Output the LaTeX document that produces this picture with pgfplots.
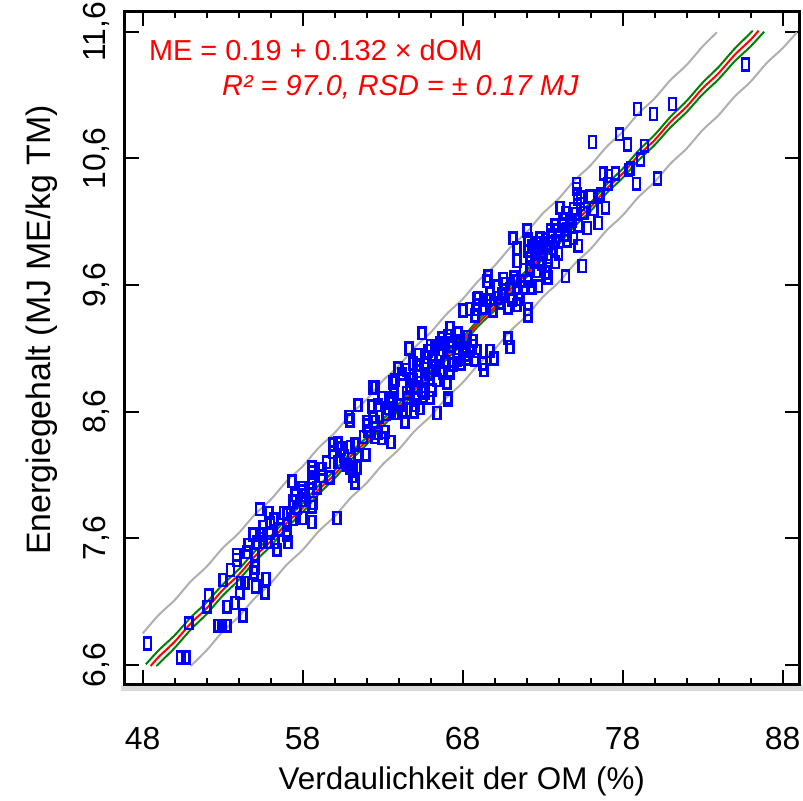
\documentclass[border=0pt]{standalone}
\usepackage{pgfplots}
\pgfplotsset{compat=1.18}
\usepackage{fontspec}
\setmainfont{Liberation Sans}
\definecolor{pgreen}{RGB}{0,128,0}
\definecolor{pgrey}{RGB}{175,175,175}
\begin{document}
\begin{tikzpicture}
\useasboundingbox (-124.7bp,-117bp) rectangle (678.3bp,684bp);
\fill[black!15] (-4bp,-7bp) rectangle (678bp,-1bp);
\begin{axis}[
  at={(0,0)}, anchor=south west, scale only axis,
  width=674.3bp, height=672.3bp,
  xmin=46.875, xmax=89.03, ymin=6.45, ymax=11.758,
  axis line style={line width=3bp},
  xtick={48,58,68,78,88}, xticklabels={48,58,68,78,88},
  minor x tick num=4,
  ytick={6.6,7.6,8.6,9.6,10.6,11.6},
  yticklabels={{6,6},{7,6},{8,6},{9,6},{10,6},{11,6}},
  major tick length=14bp, minor tick length=6bp,
  tick style={black, line width=2bp},
  tick label style={font=\fontsize{32}{36}\selectfont},
  xticklabel style={inner sep=0pt, anchor=north},
  xticklabel shift=43bp,
  yticklabel style={rotate=90, anchor=south, inner sep=0pt},
  yticklabel shift=15bp,
  xlabel={Verdaulichkeit der OM (\%)},
  ylabel={Energiegehalt (MJ ME/kg TM)},
  xlabel style={at={(axis description cs:0.5,-0.157)}, anchor=base, inner sep=0pt, font=\fontsize{31.5}{36}\selectfont},
  ylabel style={at={(axis description cs:-0.1235,0.527)}, anchor=center, font=\fontsize{34}{38}\selectfont},
  clip=true,
]
% prediction band (grey)
\addplot[pgrey, line width=2bp, smooth] coordinates {
(48,6.849) (49,6.995) (50,7.113) (51,7.259) (52,7.377) (53,7.523) (54,7.641) (55,7.787) (56,7.905) (57,8.051) (58,8.169) (59,8.315) (60,8.433) (61,8.579) (62,8.697) (63,8.843) (64,8.961) (65,9.107) (66,9.225) (67,9.371) (68,9.489) (69,9.635) (70,9.753) (71,9.899) (72,10.017) (73,10.163) (74,10.281) (75,10.427) (76,10.545) (77,10.691) (78,10.809) (79,10.955) (80,11.073) (81,11.219) (82,11.337) (83,11.483) (83.9,11.595)};
\addplot[pgrey, line width=2bp, smooth] coordinates {
(51.0,6.592) (52,6.717) (53,6.863) (54,6.981) (55,7.127) (56,7.245) (57,7.391) (58,7.509) (59,7.655) (60,7.773) (61,7.919) (62,8.037) (63,8.183) (64,8.301) (65,8.447) (66,8.565) (67,8.711) (68,8.829) (69,8.975) (70,9.093) (71,9.239) (72,9.357) (73,9.503) (74,9.621) (75,9.767) (76,9.885) (77,10.031) (78,10.149) (79,10.295) (80,10.413) (81,10.559) (82,10.677) (83,10.823) (84,10.941) (85,11.087) (86,11.205) (87,11.351) (88,11.469) (88.9,11.595)};
% data
\addplot[only marks, mark=square, mark size=5.9bp, mark options={draw=blue, line width=2.5bp, xscale=0.6, solid}] coordinates {
(48.31,6.77) (50.38,6.66) (50.69,6.66) (50.88,6.93) (52.13,7.15) (52.01,7.06) (52.70,6.91) (52.95,6.91) (53.26,6.91) (53.26,7.06)
(53.76,7.09) (54.26,6.99) (53.01,7.27) (54.07,7.17) (54.13,7.25) (54.39,7.25) (53.88,7.47) (53.88,7.43) (54.51,7.49) (54.95,7.33)
(55.07,7.22) (55.70,7.28) (55.64,7.17) (55.01,7.47) (55.01,7.37) (55.14,7.57) (55.32,7.63) (55.51,7.63) (55.83,7.57) (56.39,7.51)
(57.08,7.57) (57.01,7.65) (55.32,7.83) (55.89,7.80) (56.20,7.75) (57.01,7.79) (57.39,7.75) (58.02,7.76) (58.58,7.73) (57.39,7.89)
(57.64,7.84) (57.95,7.97) (58.14,7.94) (57.33,8.05) (58.58,8.16) (58.58,8.12) (58.58,8.08) (58.58,8.04) (58.64,7.88) (59.21,8.09)
(59.71,8.08) (60.14,7.76) (59.89,8.34) (60.21,8.35) (59.89,8.28) (60.33,8.20) (60.96,8.16) (61.15,8.14) (61.15,8.09) (61.27,8.04)
(61.27,8.34) (61.46,8.26) (61.96,8.26) (60.90,8.56) (61.46,8.65) (62.02,8.49) (62.34,8.64) (62.40,8.56) (62.52,8.52) (62.71,8.43)
(62.96,8.39) (63.15,8.44) (63.46,8.69) (63.52,8.36) (63.96,8.59) (64.40,8.52) (64.53,8.71) (64.96,8.60) (65.15,8.71) (65.34,8.63)
(65.65,8.75) (66.40,8.59) (67.09,8.69) (63.65,8.83) (62.52,8.79) (64.71,8.81) (60.96,8.53) (60.21,8.20) (60.77,8.18) (61.40,8.16)
(57.95,8.00) (57.52,7.94) (57.95,7.90) (58.58,7.85) (55.95,7.64) (56.58,7.67) (57.01,7.63) (56.26,7.57) (55.51,7.57) (54.89,7.63)
(55.51,7.69) (57.01,7.71) (60.39,8.31) (62.09,8.45) (62.52,8.40)
(68.91,9.49) (68.85,9.41) (68.78,9.36) (69.28,9.42) (68.03,9.40) (68.47,9.41) (65.47,9.22) (64.65,9.10) (67.22,9.26) (67.09,9.20)
(67.72,9.22) (66.59,9.14) (66.91,9.14) (67.66,9.14) (67.84,9.16) (68.28,9.19) (68.66,9.16) (65.84,9.08) (66.28,9.10) (67.22,9.07)
(67.66,9.08) (68.03,9.10) (68.47,9.08) (68.91,9.08) (65.78,9.03) (66.09,9.01) (66.59,9.04) (66.91,8.99) (67.66,9.01) (68.28,9.02)
(68.78,9.01) (64.90,8.98) (65.15,8.97) (65.65,8.97) (66.09,8.95) (63.96,8.94) (66.78,8.91) (67.22,8.91) (64.71,8.86) (64.90,8.85)
(65.65,8.87) (66.40,8.85) (67.03,8.83) (63.78,8.85) (62.40,8.79) (64.71,8.79) (65.03,8.79) (65.47,8.77) (66.09,8.77) (65.53,8.71)
(65.97,8.71) (67.09,8.71) (62.96,8.71) (63.59,8.71) (62.71,8.65) (64.09,8.65) (65.03,8.65) (63.34,8.63) (63.78,8.59) (64.28,8.60)
(62.02,8.52) (69.28,8.98) (69.35,8.93) (69.72,9.08) (70.85,9.18) (70.97,9.11) (69.97,9.02)
(64.20,8.90) (64.50,8.93) (65.30,8.92) (65.90,8.90) (66.30,8.96) (66.60,8.93) (67.40,8.97) (67.90,8.98) (68.20,9.05) (68.60,9.12)
(66.00,9.12) (66.70,9.18) (67.30,9.12) (65.20,9.05) (64.50,8.75) (63.70,8.76) (63.20,8.58) (62.80,8.56) (61.80,8.40) (61.00,8.32)
(60.60,8.25) (59.50,8.20) (59.20,8.15) (58.90,8.00) (56.80,7.80) (56.00,7.72) (54.60,7.55) (53.50,7.35)
(75.11,10.40) (75.11,10.36) (75.17,10.32) (75.17,10.28) (75.36,10.29) (75.36,10.24) (76.48,10.30) (74.10,10.21) (74.42,10.17) (74.29,10.12)
(74.92,10.20) (75.04,10.16) (74.86,10.11) (73.79,10.07) (73.92,10.03) (74.23,10.07) (74.54,10.04) (75.23,10.07) (76.48,10.09) (75.79,10.05)
(72.85,9.97) (73.17,9.96) (72.04,10.03) (71.16,9.97) (72.10,9.96) (72.35,9.91) (72.66,9.93) (72.85,9.89) (73.48,9.93) (73.60,9.99)
(73.67,9.89) (74.54,9.95) (74.92,9.97) (75.23,9.91) (71.41,9.89) (72.10,9.87) (72.66,9.85) (73.04,9.85) (73.35,9.82) (72.23,9.81)
(72.54,9.79) (71.41,9.79) (72.98,9.77) (73.29,9.75) (75.48,9.75) (72.23,9.74) (72.66,9.71) (73.17,9.70) (73.35,9.66) (74.42,9.67)
(69.60,9.67) (70.54,9.65) (70.66,9.61) (71.41,9.63) (72.10,9.63) (71.79,9.58) (72.35,9.58) (72.73,9.59) (70.97,9.57) (70.16,9.59)
(69.72,9.53) (70.47,9.53) (71.48,9.54) (68.97,9.50) (69.53,9.48) (68.91,9.44) (70.35,9.46) (71.10,9.48) (71.60,9.49) (70.85,9.42)
(71.41,9.44) (72.10,9.41) (69.53,9.63) (72.10,9.36)
(72.50,9.78) (73.00,9.90) (73.80,9.95) (74.00,9.85) (74.40,10.00) (73.50,10.03) (71.80,9.72) (71.20,9.66) (70.20,9.50) (69.90,9.40)
(73.80,9.78) (74.70,10.11) (75.60,10.17) (76.20,10.20) (77.10,10.40)
(85.69,11.34) (81.12,11.03) (79.93,10.95) (78.92,10.99) (77.80,10.79) (78.30,10.71) (76.11,10.73) (79.36,10.70) (79.11,10.59) (78.36,10.51)
(76.80,10.48) (77.11,10.46) (77.55,10.48) (78.86,10.40) (80.18,10.44) (75.98,10.30) (76.61,10.32) (76.92,10.21) (78.49,10.52)
};
% confidence band (green)
\addplot[pgreen, line width=2bp, smooth] coordinates {
(48.2,6.606) (49,6.716) (50,6.835) (51,6.975) (52,7.095) (53,7.235) (54,7.355) (55,7.495) (56,7.615) (57,7.755) (58,7.876) (59,8.016) (60,8.136) (61,8.277) (62,8.398) (63,8.539) (64,8.660) (65,8.801) (66,8.922) (67,9.064) (68,9.186) (69,9.328) (70,9.451) (71,9.594) (72,9.716) (73,9.860) (74,9.983) (75,10.126) (76,10.250) (77,10.394) (78,10.517) (79,10.661) (80,10.785) (81,10.929) (82,11.053) (83,11.197) (84,11.321) (85,11.465) (86,11.590) (86.1,11.608)};
\addplot[pgreen, line width=2bp, smooth] coordinates {
(48.9,6.592) (49,6.610) (50,6.735) (51,6.879) (52,7.003) (53,7.147) (54,7.271) (55,7.415) (56,7.539) (57,7.683) (58,7.807) (59,7.950) (60,8.074) (61,8.217) (62,8.341) (63,8.484) (64,8.607) (65,8.749) (66,8.872) (67,9.014) (68,9.136) (69,9.278) (70,9.399) (71,9.540) (72,9.662) (73,9.802) (74,9.923) (75,10.064) (76,10.184) (77,10.325) (78,10.445) (79,10.585) (80,10.705) (81,10.845) (82,10.965) (83,11.105) (84,11.225) (85,11.365) (86,11.484) (86.85,11.600)};
% regression (red)
\addplot[red, line width=2bp, smooth] coordinates {
(48.5,6.592) (49,6.664) (50,6.784) (51,6.928) (52,7.048) (53,7.192) (54,7.312) (55,7.456) (56,7.576) (57,7.720) (58,7.840) (59,7.984) (60,8.104) (61,8.248) (62,8.368) (63,8.512) (64,8.632) (65,8.776) (66,8.896) (67,9.040) (68,9.160) (69,9.304) (70,9.424) (71,9.568) (72,9.688) (73,9.832) (74,9.952) (75,10.096) (76,10.216) (77,10.360) (78,10.480) (79,10.624) (80,10.744) (81,10.888) (82,11.008) (83,11.152) (84,11.272) (85,11.416) (86,11.536) (86.5,11.608)};
\node[anchor=base west, inner sep=0pt, red, font=\fontsize{29}{33}\selectfont] at (axis cs:48.39,11.375) {ME = 0.19 + 0.132 × dOM};
\node[anchor=base west, inner sep=0pt, red, font=\fontsize{29}{33}\selectfont\itshape] at (axis cs:52.96,11.099) {R² = 97.0, RSD = ± 0.17 MJ};
\end{axis}
\end{tikzpicture}
\end{document}
